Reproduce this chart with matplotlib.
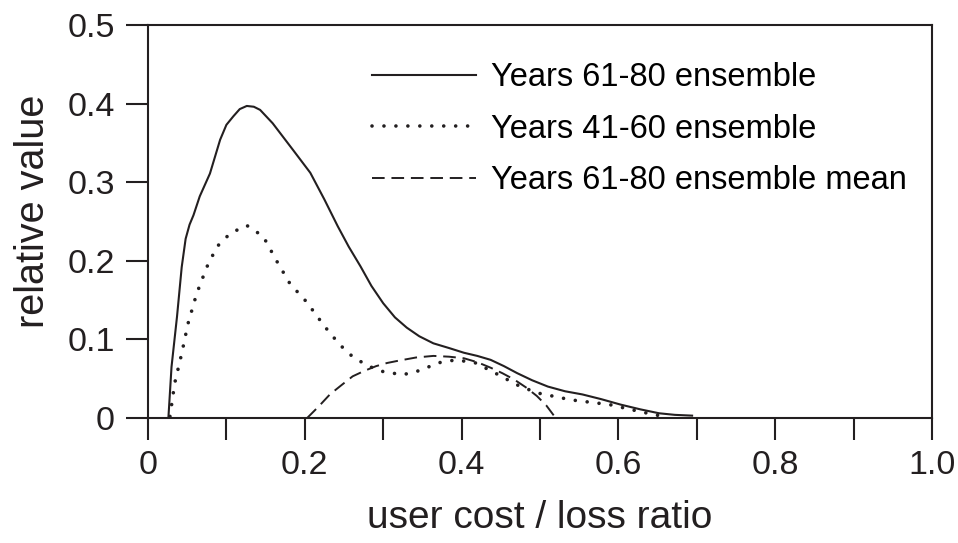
import matplotlib
matplotlib.use("Agg")
import matplotlib.pyplot as plt
from matplotlib.ticker import FixedLocator

plt.rcParams['font.family'] = ['Liberation Sans', 'DejaVu Sans']

# curves
x_late = [0.026, 0.030, 0.037, 0.043, 0.048, 0.053, 0.058, 0.066, 0.079, 0.092,
          0.100, 0.109, 0.117, 0.126, 0.135, 0.143, 0.159, 0.172, 0.185, 0.207,
          0.225, 0.242, 0.256, 0.271, 0.285, 0.300, 0.315, 0.330, 0.346, 0.364,
          0.384, 0.403, 0.420, 0.437, 0.454, 0.471, 0.490, 0.510, 0.532, 0.554,
          0.578, 0.603, 0.628, 0.652, 0.672, 0.694]
y_late = [0.000, 0.065, 0.129, 0.192, 0.228, 0.246, 0.258, 0.282, 0.311, 0.354,
          0.373, 0.384, 0.393, 0.397, 0.396, 0.392, 0.375, 0.358, 0.341, 0.312,
          0.278, 0.244, 0.218, 0.193, 0.168, 0.146, 0.128, 0.115, 0.104, 0.095,
          0.089, 0.083, 0.079, 0.074, 0.066, 0.057, 0.048, 0.040, 0.034, 0.030,
          0.024, 0.017, 0.011, 0.006, 0.004, 0.003]

x_early = [0.028, 0.034, 0.043, 0.051, 0.062, 0.075, 0.088, 0.105, 0.126, 0.147,
           0.164, 0.181, 0.202, 0.219, 0.232, 0.247, 0.261, 0.281, 0.300, 0.325,
           0.349, 0.369, 0.393, 0.418, 0.447, 0.471, 0.496, 0.540, 0.589, 0.628,
           0.657]
y_early = [0.002, 0.044, 0.082, 0.120, 0.158, 0.192, 0.218, 0.235, 0.245, 0.231,
           0.200, 0.171, 0.148, 0.125, 0.108, 0.091, 0.078, 0.066, 0.059, 0.055,
           0.061, 0.070, 0.074, 0.070, 0.055, 0.042, 0.032, 0.023, 0.017, 0.008,
           0.002]

x_mean = [0.203, 0.218, 0.232, 0.247, 0.261, 0.276, 0.291, 0.305, 0.320, 0.342,
          0.364, 0.384, 0.403, 0.420, 0.437, 0.452, 0.467, 0.482, 0.496, 0.508,
          0.520]
y_mean = [0.000, 0.015, 0.030, 0.042, 0.053, 0.060, 0.066, 0.070, 0.073, 0.077,
          0.079, 0.078, 0.076, 0.071, 0.064, 0.057, 0.049, 0.039, 0.028, 0.016,
          0.000]

labels = ["Years 61-80 ensemble", "Years 41-60 ensemble", "Years 61-80 ensemble mean"]

x_major = [0, 0.2, 0.4, 0.6, 0.8, 1.0]
x_major_labels = ["0", "0.2", "0.4", "0.6", "0.8", "1.0"]
x_minor = [0.1, 0.3, 0.5, 0.7, 0.9]
y_ticks = [0, 0.1, 0.2, 0.3, 0.4, 0.5]
y_tick_labels = ["0", "0.1", "0.2", "0.3", "0.4", "0.5"]

fig = plt.figure(figsize=(9.58, 5.43), dpi=100)
ax = fig.add_axes([148 / 958, 1 - 418 / 543, 784 / 958, 393 / 543])

col = "#231f20"
ax.plot(x_late, y_late, color=col, lw=1.5, solid_joinstyle="round", label=labels[0])
ax.plot(x_early, y_early, color=col, lw=2.6, linestyle=(0, (0.01, 3.3)),
        dash_capstyle="round", label=labels[1])
ax.plot(x_mean, y_mean, color=col, lw=1.4, linestyle=(0, (6.5, 3.5)),
        label=labels[2])

ax.set_xlim(0, 1.0)
ax.set_ylim(0, 0.5)
ax.xaxis.set_major_locator(FixedLocator(x_major))
ax.xaxis.set_minor_locator(FixedLocator(x_minor))
ax.set_xticklabels(x_major_labels)
ax.set_yticks(y_ticks)
ax.set_yticklabels(y_tick_labels)

for s in ax.spines.values():
    s.set_linewidth(1.5)
    s.set_color(col)
ax.tick_params(axis="both", which="both", direction="out", length=16, width=1.5,
               color=col, labelcolor=col, labelsize=24.5)
ax.tick_params(axis="x", pad=7)
ax.tick_params(axis="y", pad=8)

ax.set_xlabel("user cost / loss ratio", fontsize=28, color=col, labelpad=14)
ax.set_ylabel("relative value", fontsize=28.5, color=col, labelpad=11)
ax.yaxis.label.set_y(0.525)

ax.legend(loc="upper left", bbox_to_anchor=(0.2857, 0.905), frameon=False,
          fontsize=23.5, handlelength=3.2, handletextpad=0.45, borderpad=0,
          labelspacing=0.63, borderaxespad=0)

fig.savefig("out.png", dpi=100)
